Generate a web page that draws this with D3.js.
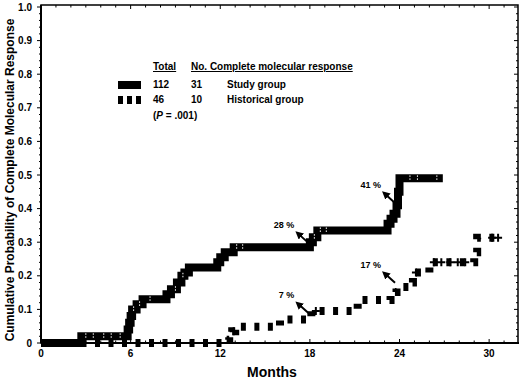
<!DOCTYPE html>
<html>
<head>
<meta charset="utf-8">
<script src="https://cdn.jsdelivr.net/npm/d3@7"></script>
<style>
  body { margin: 0; background: #fff; }
  text { font-family: "Liberation Sans", Arial, sans-serif; font-weight: bold; fill: #000; }
</style>
</head>
<body>
<div id="chart"></div>
<script>
// step points: [month, cumulative probability]
const studyMonths = [0, 2.7, 5.8, 5.9, 6.0, 6.1, 6.4, 6.8, 8.4, 8.7, 9.1, 9.4, 9.6, 9.9, 11.8, 12.0, 12.3, 12.9, 18.0, 18.2, 18.5, 23.2, 23.4, 23.6, 23.8, 23.9, 24.0, 26.9];
const studyValues = [0, 0.02, 0.04, 0.06, 0.08, 0.10, 0.115, 0.13, 0.145, 0.16, 0.18, 0.20, 0.21, 0.225, 0.24, 0.255, 0.27, 0.285, 0.30, 0.315, 0.335, 0.355, 0.37, 0.385, 0.41, 0.45, 0.49, 0.49];
const studyCensored = [3.0, 3.5, 4.2, 4.7, 5.3, 6.2, 6.6, 7.3, 9.0, 9.5, 13.1, 13.5, 18.3, 18.7, 19.1, 24.7, 25.2, 26.5];

const histMonths = [0, 12.3, 12.6, 12.8, 13.0, 16.0, 18.1, 21.2, 23.4, 23.8, 24.6, 24.9, 26.0, 29.0, 29.2, 30.9];
const histValues = [0, 0.01, 0.025, 0.035, 0.048, 0.07, 0.095, 0.128, 0.152, 0.167, 0.18, 0.21, 0.24, 0.27, 0.313, 0.313];
const histCensored = [12.9, 18.4, 25.1, 26.3, 26.8, 27.4, 27.9, 28.4, 30.2, 30.6];

const xTicks = [0, 6, 12, 18, 24, 30];
const yTicks = [0, 0.1, 0.2, 0.3, 0.4, 0.5, 0.6, 0.7, 0.8, 0.9, 1.0];

// labels with arrows: [label, month, value] where the arrow leaves the curve
const notes = [
  ["41 %", 23.7, 0.417],
  ["28 %", 17.9, 0.298],
  ["17 %", 23.7, 0.179],
  ["7 %", 17.9, 0.089]
];

const width = 520, height = 380;

const svg = d3.select("#chart")
  .append("svg")
  .attr("width", width)
  .attr("height", height);

const x = d3.scaleLinear().domain([0, 32]).range([41, 519]);
const y = d3.scaleLinear().domain([0, 1]).range([343, 7]);

// frame
svg.append("rect")
  .attr("x", x(0)).attr("y", 5)
  .attr("width", x(32) - x(0) - 1).attr("height", y(0) - 5)
  .attr("fill", "none").attr("stroke", "#000").attr("stroke-width", 1.5);

// minor ticks on every side
const g = svg.append("g");
d3.range(0, 32, 1).forEach(m => {
  const big = m % 6 === 0;
  g.append("line").attr("x1", x(m)).attr("x2", x(m)).attr("y1", y(0)).attr("y2", y(0) - (big ? 4 : 2.5)).attr("stroke", "#000");
  g.append("line").attr("x1", x(m)).attr("x2", x(m)).attr("y1", 5).attr("y2", 5 + (big ? 4 : 2.5)).attr("stroke", "#000");
});
d3.range(0, 51, 1).forEach(i => {
  const v = i / 50, big = i % 5 === 0;
  g.append("line").attr("x1", x(0)).attr("x2", x(0) - (big ? 4 : 2)).attr("y1", y(v)).attr("y2", y(v)).attr("stroke", "#000");
  g.append("line").attr("x1", x(32) - 1).attr("x2", x(32) - 1 - (big ? 4 : 2)).attr("y1", y(v)).attr("y2", y(v)).attr("stroke", "#000");
});

// heavier left and bottom axis lines
svg.append("line").attr("x1", x(0)).attr("x2", x(0)).attr("y1", 5).attr("y2", y(0)).attr("stroke", "#000").attr("stroke-width", 2);
svg.append("line").attr("x1", x(0)).attr("x2", x(32)).attr("y1", y(0)).attr("y2", y(0)).attr("stroke", "#000").attr("stroke-width", 2);

// tick labels
svg.append("g").selectAll("text")
  .data(xTicks)
  .join("text")
  .attr("x", d => x(d)).attr("y", 357)
  .attr("text-anchor", "middle")
  .attr("font-size", 10)
  .text(d => d);

svg.append("g").selectAll("text")
  .data(yTicks)
  .join("text")
  .attr("x", 32).attr("y", d => y(d) + 3.5)
  .attr("text-anchor", "end")
  .attr("font-size", 10)
  .text(d => d === 0 ? "0" : d.toFixed(1));

svg.append("text")
  .attr("x", 272).attr("y", 377)
  .attr("text-anchor", "middle")
  .attr("font-size", 14)
  .text("Months");

svg.append("text")
  .attr("transform", "translate(14,180) rotate(-90)")
  .attr("text-anchor", "middle")
  .attr("font-size", 12)
  .text("Cumulative Probability of Complete Molecular Response");

const line = d3.line()
  .x(d => x(d[0]))
  .y(d => y(d[1]))
  .curve(d3.curveStepAfter);

const study = studyMonths.map((m, i) => [m, studyValues[i]]);
const hist = histMonths.map((m, i) => [m, histValues[i]]);

// lookup the curve value at a month
function valueAt(months, values, m) {
  let v = values[0];
  for (let i = 0; i < months.length; i++) if (months[i] <= m) v = values[i];
  return v;
}

// historical group: dashed heavy line
svg.append("path")
  .attr("d", line(hist))
  .attr("fill", "none")
  .attr("stroke", "#000")
  .attr("stroke-width", 8)
  .attr("stroke-dasharray", "5,8.5");

svg.append("g").selectAll("path")
  .data(histCensored)
  .join("path")
  .attr("d", d => {
    const cx = x(d), cy = y(valueAt(histMonths, histValues, d));
    return `M${cx - 4},${cy}H${cx + 4}M${cx},${cy - 4}V${cy + 4}`;
  })
  .attr("stroke", "#000")
  .attr("stroke-width", 2);

// study group: solid heavy line
svg.append("path")
  .attr("d", line(study))
  .attr("fill", "none")
  .attr("stroke", "#000")
  .attr("stroke-width", 8)
  .attr("stroke-linejoin", "miter");

svg.append("g").selectAll("line")
  .data(studyCensored)
  .join("line")
  .attr("x1", d => x(d)).attr("x2", d => x(d))
  .attr("y1", d => y(valueAt(studyMonths, studyValues, d)) - 3)
  .attr("y2", d => y(valueAt(studyMonths, studyValues, d)) + 3)
  .attr("stroke", "#fff")
  .attr("stroke-width", 1)
  .attr("stroke-dasharray", "1.5,1.5");

// annotations with arrows
svg.append("defs").append("marker")
  .attr("id", "head")
  .attr("viewBox", "0 0 10 10")
  .attr("refX", 5).attr("refY", 5)
  .attr("markerWidth", 4).attr("markerHeight", 4)
  .attr("orient", "auto")
  .append("path")
  .attr("d", "M0,0L10,5L0,10Z")
  .attr("fill", "#000");

notes.forEach(([label, m, v]) => {
  const tx = x(m), ty = y(v);
  svg.append("line")
    .attr("x1", tx).attr("y1", ty)
    .attr("x2", tx - 10).attr("y2", ty - 9)
    .attr("stroke", "#000").attr("stroke-width", 2)
    .attr("marker-end", "url(#head)");
  svg.append("text")
    .attr("x", tx - 14).attr("y", ty - 15)
    .attr("text-anchor", "end")
    .attr("font-size", 9)
    .text(label);
});

// legend
const lg = svg.append("g").attr("font-size", 10);
lg.append("text").attr("x", 153).attr("y", 70).attr("text-decoration", "underline").attr("font-size", 10).text("Total");
lg.append("text").attr("x", 191).attr("y", 70).attr("text-decoration", "underline").attr("font-size", 10).text("No. Complete molecular response");
lg.append("rect").attr("x", 118).attr("y", 81).attr("width", 23).attr("height", 8).attr("fill", "#000");
[118, 127, 136].forEach(bx => lg.append("rect").attr("x", bx).attr("y", 96).attr("width", 5).attr("height", 8).attr("fill", "#000"));
lg.append("text").attr("x", 153).attr("y", 88).attr("font-size", 10).text("112");
lg.append("text").attr("x", 191).attr("y", 88).attr("font-size", 10).text("31");
lg.append("text").attr("x", 227).attr("y", 88).attr("font-size", 10).text("Study group");
lg.append("text").attr("x", 153).attr("y", 103).attr("font-size", 10).text("46");
lg.append("text").attr("x", 191).attr("y", 103).attr("font-size", 10).text("10");
lg.append("text").attr("x", 227).attr("y", 103).attr("font-size", 10).text("Historical group");
const pt = lg.append("text").attr("x", 153).attr("y", 119).attr("font-size", 10);
pt.append("tspan").text("(");
pt.append("tspan").attr("font-style", "italic").text("P");
pt.append("tspan").text(" = .001)");
</script>
</body>
</html>
